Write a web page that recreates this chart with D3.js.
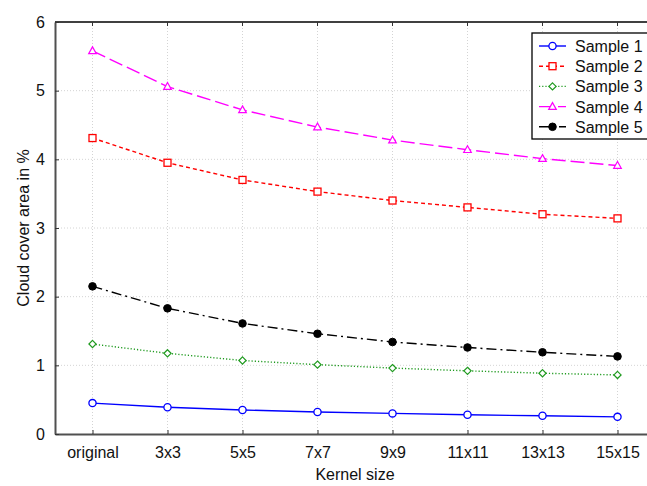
<!DOCTYPE html>
<html>
<head>
  <meta charset="UTF-8">
  <title>Cloud cover area</title>
  <style>
    body { margin: 0; background: #fff; font-family: "Liberation Sans", Arial, sans-serif; }
  </style>
</head>
<body>
  <div id="chart"></div>
  <script src="https://cdn.jsdelivr.net/npm/d3@7"></script>
  <script>
    // data
    var kernels = ["original", "3x3", "5x5", "7x7", "9x9", "11x11", "13x13", "15x15"];
    var sample1 = [0.45, 0.39, 0.35, 0.32, 0.30, 0.28, 0.265, 0.25];
    var sample2 = [4.31, 3.95, 3.70, 3.53, 3.40, 3.30, 3.20, 3.14];
    var sample3 = [1.31, 1.175, 1.07, 1.01, 0.96, 0.92, 0.885, 0.86];
    var sample4 = [5.58, 5.06, 4.72, 4.47, 4.28, 4.14, 4.01, 3.91];
    var sample5 = [2.15, 1.83, 1.61, 1.46, 1.34, 1.26, 1.19, 1.13];
    var yTicks = [0, 1, 2, 3, 4, 5, 6];

    var series = [
      { name: "Sample 1", values: sample1, color: "#0000ff", dash: null, marker: "circle" },
      { name: "Sample 2", values: sample2, color: "#ff0000", dash: "4,3", marker: "square" },
      { name: "Sample 3", values: sample3, color: "#1f9a1f", dash: "1.2,2", marker: "diamond" },
      { name: "Sample 4", values: sample4, color: "#ff00ff", dash: "14,5", marker: "triangle" },
      { name: "Sample 5", values: sample5, color: "#000000", dash: "10,4,2,4", marker: "dot" }
    ];

    var width = 647, height = 486;
    var plotL = 55, plotR = 655, plotT = 22, plotB = 434;

    var svg = d3.select("#chart").append("svg")
      .attr("width", width)
      .attr("height", height);

    var x = d3.scalePoint().domain(kernels).range([plotL, plotR]).padding(0.5);
    var y = d3.scaleLinear().domain([0, 6]).range([plotB, plotT]);

    // grid
    svg.append("g").selectAll("line")
      .data(kernels).enter().append("line")
      .attr("x1", d => x(d)).attr("x2", d => x(d))
      .attr("y1", plotT).attr("y2", plotB)
      .attr("stroke", "#d4d4d4").attr("stroke-dasharray", "1,2");
    svg.append("g").selectAll("line")
      .data(yTicks.slice(1, -1)).enter().append("line")
      .attr("x1", plotL).attr("x2", plotR)
      .attr("y1", d => y(d)).attr("y2", d => y(d))
      .attr("stroke", "#d4d4d4").attr("stroke-dasharray", "1,2");

    // top border
    svg.append("line")
      .attr("x1", plotL).attr("x2", plotR).attr("y1", plotT).attr("y2", plotT)
      .attr("stroke", "#000").attr("stroke-width", 1.3);

    // axes
    var xAxis = svg.append("g")
      .attr("transform", "translate(0," + plotB + ")")
      .call(d3.axisBottom(x).tickSizeInner(-4).tickSizeOuter(0).tickPadding(13));
    var yAxis = svg.append("g")
      .attr("transform", "translate(" + plotL + ",0)")
      .call(d3.axisLeft(y).tickValues(yTicks).tickFormat(d3.format("d"))
        .tickSizeInner(-4).tickSizeOuter(0).tickPadding(10));

    [xAxis, yAxis].forEach(function (g) {
      g.select(".domain").attr("stroke", "#505050").attr("stroke-width", 2);
      g.selectAll(".tick line").attr("stroke", "#333");
      g.selectAll("text").attr("fill", "#111")
        .style("font-size", "16px")
        .style("font-family", "'Liberation Sans', Arial, sans-serif");
    });

    // top ticks
    svg.append("g").selectAll("line")
      .data(kernels).enter().append("line")
      .attr("x1", d => x(d)).attr("x2", d => x(d))
      .attr("y1", plotT).attr("y2", plotT + 4)
      .attr("stroke", "#333");

    // axis titles
    svg.append("text")
      .attr("x", (plotL + plotR) / 2).attr("y", 480)
      .attr("text-anchor", "middle")
      .style("font-size", "16px").attr("fill", "#111")
      .text("Kernel size");
    svg.append("text")
      .attr("transform", "translate(29," + (plotT + plotB) / 2 + ") rotate(-90)")
      .attr("text-anchor", "middle")
      .style("font-size", "16px").attr("fill", "#111")
      .text("Cloud cover area in %");

    function drawMarker(g, type, color, cx, cy) {
      if (type === "circle") {
        g.append("circle").attr("cx", cx).attr("cy", cy).attr("r", 3.6)
          .attr("fill", "#fff").attr("stroke", color).attr("stroke-width", 1.3);
      } else if (type === "square") {
        g.append("rect").attr("x", cx - 3.5).attr("y", cy - 3.5).attr("width", 7).attr("height", 7)
          .attr("fill", "#fff").attr("stroke", color).attr("stroke-width", 1.3);
      } else if (type === "diamond") {
        g.append("path")
          .attr("d", "M" + cx + "," + (cy - 3.6) + "L" + (cx + 3.6) + "," + cy + "L" + cx + "," + (cy + 3.6) + "L" + (cx - 3.6) + "," + cy + "Z")
          .attr("fill", "#fff").attr("stroke", color).attr("stroke-width", 1.2);
      } else if (type === "triangle") {
        g.append("path")
          .attr("d", "M" + cx + "," + (cy - 4) + "L" + (cx + 3.8) + "," + (cy + 2.8) + "L" + (cx - 3.8) + "," + (cy + 2.8) + "Z")
          .attr("fill", "#fff").attr("stroke", color).attr("stroke-width", 1.2);
      } else {
        g.append("circle").attr("cx", cx).attr("cy", cy).attr("r", 3.8)
          .attr("fill", color).attr("stroke", color);
      }
    }

    var line = d3.line().x((d, i) => x(kernels[i])).y(d => y(d));

    series.forEach(function (s) {
      var g = svg.append("g");
      g.append("path")
        .attr("d", line(s.values))
        .attr("fill", "none")
        .attr("stroke", s.color)
        .attr("stroke-width", 1.4)
        .attr("stroke-dasharray", s.dash);
      s.values.forEach(function (v, i) {
        drawMarker(g, s.marker, s.color, x(kernels[i]), y(v));
      });
    });

    // legend
    var lg = svg.append("g");
    lg.append("rect")
      .attr("x", 532).attr("y", 33).attr("width", 130).attr("height", 106)
      .attr("fill", "#fff").attr("stroke", "#000").attr("stroke-width", 1.3);
    series.forEach(function (s, i) {
      var cy = 46 + i * 20.2;
      lg.append("line")
        .attr("x1", 539).attr("x2", 566).attr("y1", cy).attr("y2", cy)
        .attr("stroke", s.color).attr("stroke-width", 1.4)
        .attr("stroke-dasharray", s.dash);
      drawMarker(lg, s.marker, s.color, 552.5, cy);
      lg.append("text")
        .attr("x", 575).attr("y", cy + 6)
        .style("font-size", "16px").attr("fill", "#111")
        .text(s.name);
    });
  </script>
</body>
</html>
